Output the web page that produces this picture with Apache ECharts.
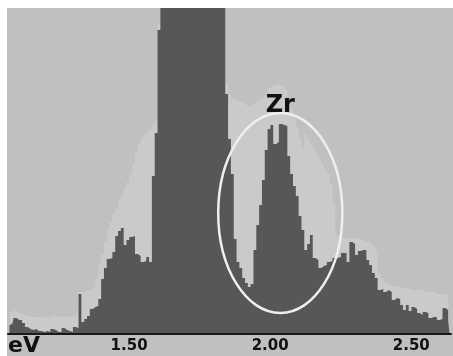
<!DOCTYPE html>
<html>
<head>
<meta charset="utf-8">
<script src="https://cdn.jsdelivr.net/npm/echarts@6/dist/echarts.min.js"></script>
<style>
  html, body { margin: 0; padding: 0; background: #fff; }
  #main { width: 453px; height: 356px; }
</style>
</head>
<body>
<div id="main"></div>
<script>
// energy bins: 0.01 eV wide, first bin centre 1.09 eV
const binStart = 1.09
const binStep = 0.01

const countsDark = [
  9, 10, 16, 14, 14, 11, 7, 5, 4, 5, 3, 3, 2, 3, 2, 5, 4, 2, 2, 6, 4, 3, 2, 7, 6,
  40, 12, 15, 18, 25, 27, 28, 35, 55, 66, 75, 76, 82, 98, 103, 106, 89, 94, 97, 98, 80, 78, 72, 73, 77, 72,
  158, 201, 304,
  400, 400, 400, 400, 400, 400, 400, 400, 400, 400, 400, 400, 400, 400, 400, 400, 400, 400, 400, 400, 400, 400, 400,
  240, 195, 160, 95, 72, 66, 56, 51, 47, 50, 84, 109, 129, 154, 184,
  205, 209, 190, 192, 210, 209, 208, 178, 160, 148, 138, 118,
  104, 84, 90, 99, 76, 74, 66, 68, 69, 72, 73, 76, 76, 77, 81, 81, 72, 92, 90, 79,
  83, 84, 84, 74, 69, 61, 56, 44, 45, 42, 44, 42, 34, 36, 35, 29, 24, 29, 23, 27,
  25, 21, 19, 22, 21, 16, 17, 17, 14, 15, 26, 24, 14
]

// counts of the reference spectrum drawn behind (light)
const countsLight = [
  22, 22, 24, 22, 20, 20,
  18, 18, 17, 17, 17, 17, 17, 16, 16, 18, 18, 17, 17, 18, 18, 17, 17, 18, 20,
  42, 42, 44, 44, 46, 48, 55,
  70, 80, 92, 104, 112, 120, 126, 134, 140, 146, 152, 160, 170, 182, 190, 196, 200, 202, 205,
  210, 215, 310,
  400, 400, 400, 400, 400, 400, 400, 400, 400, 400, 400, 400, 400, 400, 400, 400, 400, 400, 400, 400, 400, 400, 400,
  250, 240, 236, 234,
  232, 232, 230, 228, 228, 230, 232, 234, 236, 238, 240,
  246, 248, 250, 250, 248, 246, 244,
  236, 226, 216, 206, 196, 186,
  200, 195, 190, 185, 180, 175, 170, 165, 160, 150, 130,
  98, 98, 96, 96, 96, 96, 96, 96, 94, 94, 92, 92, 90, 88, 84,
  60, 56, 52, 50, 48, 48, 48, 46, 46, 46, 46, 44, 44, 44, 44, 44, 42, 42, 42, 42, 40, 40, 40, 40, 40, 40
]

const tickLabels = ['1.50', '2.00', '2.50']
const tickMarks = ['1.25', '1.50', '1.75', '2.00', '2.25', '2.50']
const countMax = 326

// Zr annotation: ellipse centre / radii in data units, label anchor
const zrEllipse = { center: ['2.05', 121], rBins: 22, rCounts: 100 }
const zrLabel = { text: 'Zr', at: ['2.05', 216] }

const energies = countsDark.map((v, i) => (binStart + i * binStep).toFixed(2))

const option = {
  backgroundColor: '#c0c0c0',
  animation: false,
  grid: { left: 8, right: 2, top: 8, bottom: 22 },
  xAxis: {
    type: 'category',
    data: energies,
    boundaryGap: true,
    z: 10,
    axisLine: { lineStyle: { color: '#1a1a1a', width: 2 } },
    axisTick: {
      alignWithLabel: true,
      length: 4,
      interval: (i, v) => tickMarks.indexOf(v) >= 0,
      lineStyle: { color: '#1a1a1a', width: 2 }
    },
    axisLabel: {
      interval: (i, v) => tickLabels.indexOf(v) >= 0,
      margin: 5,
      padding: [0, 0, 0, 8],
      color: '#111',
      fontFamily: 'DejaVu Sans',
      fontWeight: 'bold',
      fontSize: 15
    },
    splitLine: { show: false }
  },
  yAxis: {
    type: 'value',
    min: 0,
    max: countMax,
    show: false
  },
  series: [
    {
      name: 'reference',
      type: 'line',
      step: 'middle',
      symbol: 'none',
      lineStyle: { width: 0 },
      areaStyle: { color: '#cacaca', opacity: 1 },
      data: countsLight
    },
    {
      name: 'sample',
      type: 'line',
      step: 'middle',
      symbol: 'none',
      lineStyle: { width: 0 },
      areaStyle: { color: '#575757', opacity: 1 },
      data: countsDark
    }
  ]
}

const chart = echarts.init(document.getElementById('main'))
chart.setOption(option)

// place the annotations from data coordinates
const ci = energies.indexOf(zrEllipse.center[0])
const c = chart.convertToPixel({ gridIndex: 0 }, [ci, zrEllipse.center[1]])
const e = chart.convertToPixel({ gridIndex: 0 }, [ci + zrEllipse.rBins, zrEllipse.center[1] + zrEllipse.rCounts])
const lp = chart.convertToPixel({ gridIndex: 0 }, [energies.indexOf(zrLabel.at[0]), zrLabel.at[1]])

chart.setOption({
  graphic: [
    { type: 'rect', shape: { x: 0, y: 0, width: 453, height: 8 }, style: { fill: '#fff' }, z: 50 },
    { type: 'rect', shape: { x: 0, y: 0, width: 7, height: 356 }, style: { fill: '#fff' }, z: 50 },
    {
      type: 'ellipse',
      shape: { cx: c[0], cy: c[1], rx: e[0] - c[0], ry: c[1] - e[1] },
      style: { fill: null, stroke: '#efefef', lineWidth: 2.5 },
      z: 40
    },
    {
      type: 'text',
      x: lp[0],
      y: lp[1],
      style: {
        text: zrLabel.text,
        fill: '#111',
        font: 'bold 24px "DejaVu Sans"',
        textAlign: 'center',
        textVerticalAlign: 'bottom'
      },
      z: 45
    },
    {
      type: 'text',
      x: 8,
      y: 357,
      style: {
        text: 'eV',
        fill: '#111',
        font: 'bold 22px "DejaVu Sans"',
        textAlign: 'left',
        textVerticalAlign: 'bottom'
      },
      z: 45
    }
  ]
})
</script>
</body>
</html>
